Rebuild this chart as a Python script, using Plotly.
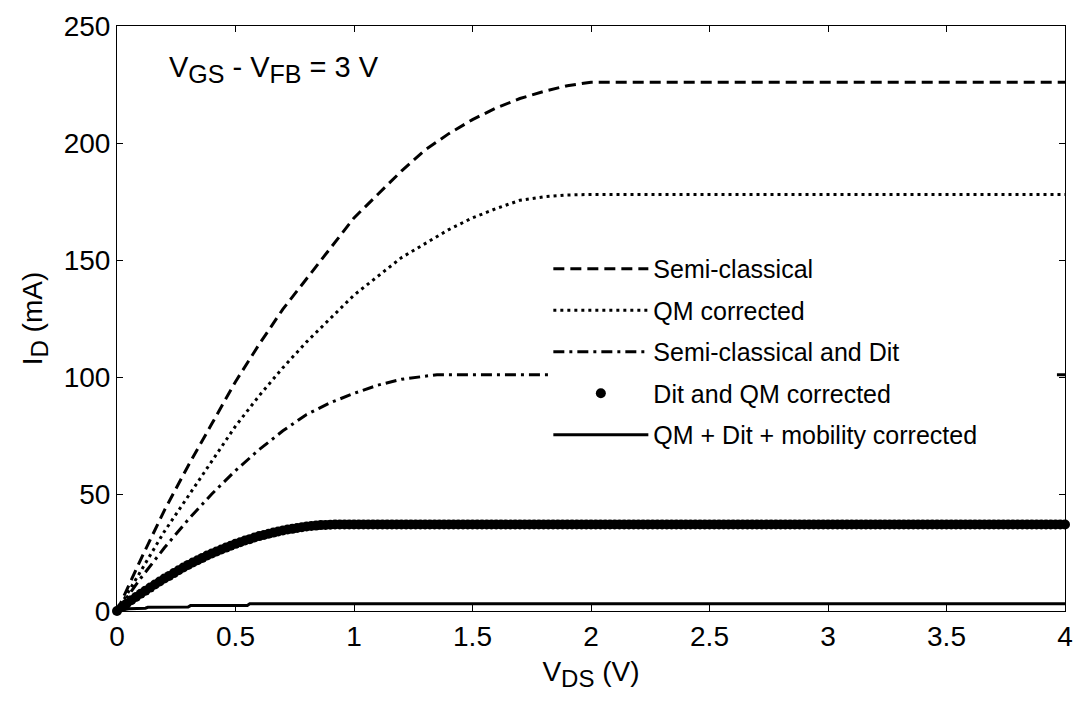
import numpy as np
import plotly.graph_objects as go

# Semi-classical (dashed)
v_sc = [0, 0.05, 0.1, 0.2, 0.3, 0.4, 0.5, 0.6, 0.7, 0.8, 0.9, 1.0, 1.1, 1.2, 1.3, 1.4, 1.5, 1.6, 1.7, 1.8, 1.9, 2.0, 4.0]
i_sc = [0, 11, 22, 43, 62, 80, 98, 114, 129, 142, 155, 168, 178, 188, 197, 204, 210, 215, 219, 222, 224.5, 226, 226]

# QM corrected (dotted)
v_qm = [0, 0.05, 0.1, 0.2, 0.3, 0.4, 0.5, 0.6, 0.7, 0.8, 0.9, 1.0, 1.1, 1.2, 1.3, 1.4, 1.5, 1.6, 1.7, 1.8, 1.9, 2.0, 4.0]
i_qm = [0, 8.7, 17, 34, 49, 64, 79, 92, 104, 115, 125, 135, 143, 151, 157, 163, 168, 172, 175.5, 177, 177.8, 178, 178]

# Semi-classical and Dit (dash-dot)
v_scd = [0, 0.1, 0.2, 0.3, 0.4, 0.5, 0.6, 0.7, 0.8, 0.9, 1.0, 1.1, 1.2, 1.3, 1.35, 4.0]
i_scd = [0, 14, 27, 39, 50, 60, 69, 77, 84, 89, 93, 96.5, 99, 100.5, 101, 101]

# Dit and QM corrected (markers), rising part sampled every 0.02 V
i_dqm_rise = [0, 1.6, 3.1, 4.6, 6.0, 7.4, 8.7, 10.0, 11.3, 12.6, 13.9, 15.0, 16.2, 17.4, 18.6,
              19.7, 20.7, 21.7, 22.7, 23.7, 24.6, 25.4, 26.3, 27.1, 27.9, 28.7, 29.4, 30.1, 30.7,
              31.4, 32.0, 32.5, 33.0, 33.5, 34.0, 34.4, 34.8, 35.1, 35.5, 35.8, 36.1, 36.3, 36.5,
              36.7, 36.8, 36.9, 37.0, 37.0, 37.0]
i_dqm_sat = 37.0
v_dqm = np.round(np.arange(0, 4.0001, 0.02), 4)
i_dqm = i_dqm_rise + [i_dqm_sat] * (len(v_dqm) - len(i_dqm_rise))

# QM + Dit + mobility corrected (solid)
v_mob = [0, 0.03, 0.05, 0.12, 0.13, 0.30, 0.31, 0.55, 0.56, 4.0]
i_mob = [0, 0.5, 1.0, 1.2, 1.6, 1.7, 2.3, 2.4, 3.1, 3.1]

x_ticks = [0, 0.5, 1, 1.5, 2, 2.5, 3, 3.5, 4]
x_ticklabels = ["0", "0.5", "1", "1.5", "2", "2.5", "3", "3.5", "4"]
y_ticks = [0, 50, 100, 150, 200, 250]
y_ticklabels = ["0", "50", "100", "150", "200", "250"]

series_names = ["Semi-classical", "QM corrected", "Semi-classical and Dit",
                "Dit and QM corrected", "QM + Dit + mobility corrected"]

FONT = "Liberation Sans, Arial, sans-serif"
SUB_T = '<sub><span style="font-size:24px">{}</span></sub>'
SUB_A = '<sub><span style="font-size:25px">{}</span></sub>'

fig = go.Figure()
fig.add_trace(go.Scatter(x=v_sc, y=i_sc, mode="lines", name=series_names[0], legendgroup="a",
                         line=dict(color="black", width=3, dash="11px,6px")))
fig.add_trace(go.Scatter(x=v_qm, y=i_qm, mode="lines", name=series_names[1], legendgroup="b",
                         line=dict(color="black", width=3, dash="3px,4px")))
fig.add_trace(go.Scatter(x=v_scd, y=i_scd, mode="lines", name=series_names[2], legendgroup="c",
                         line=dict(color="black", width=3, dash="11px,5px,3px,5px")))
fig.add_trace(go.Scatter(x=v_dqm, y=i_dqm, mode="markers", name=series_names[3], legendgroup="d",
                         marker=dict(color="black", size=10), cliponaxis=False))
fig.add_trace(go.Scatter(x=v_mob, y=i_mob, mode="lines",
                         name=series_names[4] + "\u00a0" * 10, legendgroup="e",
                         line=dict(color="black", width=3)))

fig.add_annotation(x=0.053, y=0.925, xref="paper", yref="paper", xanchor="left", yanchor="middle",
                   text="V" + SUB_A.format("GS") + " - V" + SUB_A.format("FB") + " = 3 V", showarrow=False,
                   font=dict(family=FONT, size=29, color="black"))

axis_common = dict(showline=True, linecolor="black", linewidth=1, mirror="allticks",
                   ticks="inside", ticklen=6, tickcolor="black", showgrid=False, zeroline=False,
                   tickfont=dict(family=FONT, size=28, color="black"))

fig.update_xaxes(range=[0, 4], tickvals=x_ticks, ticktext=x_ticklabels,
                 title=dict(text="V" + SUB_T.format("DS") + " (V)",
                            font=dict(family=FONT, size=28, color="black"), standoff=10),
                 **axis_common)
fig.update_yaxes(range=[0, 250], tickvals=y_ticks, ticktext=y_ticklabels,
                 title=dict(text="I" + SUB_T.format("D") + " (mA)",
                            font=dict(family=FONT, size=28, color="black"), standoff=12),
                 **axis_common)

fig.update_layout(
    width=1084, height=706,
    margin=dict(l=117, r=11, t=18, b=95),
    paper_bgcolor="white", plot_bgcolor="white",
    font=dict(family=FONT, color="black"),
    legend=dict(x=0.455, y=0.624, xanchor="left", yanchor="top", bgcolor="white", borderwidth=0,
                font=dict(family=FONT, size=25, color="black"), itemwidth=95, tracegroupgap=6),
    showlegend=True,
)

fig.write_html("out.html")
